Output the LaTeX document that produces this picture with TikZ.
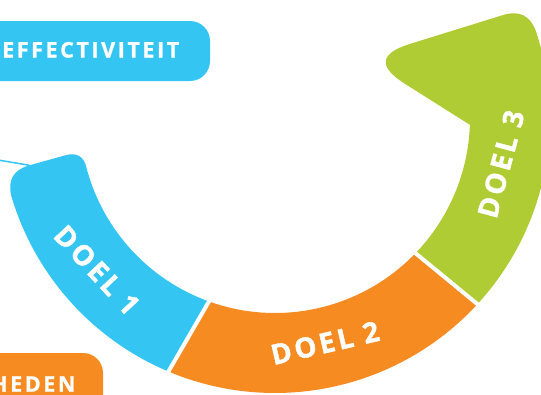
\documentclass[tikz,border=0pt]{standalone}
\usepackage{fontspec}
\setmainfont{Open Sans}
\newfontfamily\doelfont{Open Sans}[LetterSpace=11,BoldFeatures={FakeBold=1.3}]
\newfontfamily\boxfont{Open Sans}[LetterSpace=12,BoldFeatures={FakeBold=1.1}]
\definecolor{cblue}{HTML}{34C5F3}
\definecolor{corange}{HTML}{F68B21}
\definecolor{cgreen}{HTML}{B0CC34}
\begin{document}
\begin{tikzpicture}[x=1pt,y=1pt,
  doel/.style={text=white,font=\fontsize{28}{28}\selectfont\doelfont\bfseries,inner sep=0pt},
  boxlabel/.style={text=white,font=\fontsize{21.5}{22}\selectfont\boxfont\bfseries,inner sep=0pt,anchor=base west},
  gap/.style={draw=white,line width=4pt,shorten <=-6pt,shorten >=-6pt},
  conn/.style={draw=cblue,line width=1.5pt}]
\useasboundingbox (0,0) rectangle (541,-394);
% label boxes
\fill[cblue,rounded corners=20pt] (-40,-21) rectangle (210,-81);
\node[boxlabel] (eff) at (2,-57.5) {EFFECTIVITEIT};
\fill[corange,rounded corners=20pt] (-40,-353) rectangle (103,-440);
\node[boxlabel] (heden) at (-9,-391.7) {HEDEN};
% ring
\begin{scope}[shift={(275,-118)}]
  % blue segment with rounded start
  \fill[cblue] (-112.8:275) arc[start angle=-112.8,end angle=-163.46,radius=275]
     .. controls (-267.6,-62.1) and (-261.6,-51.8) .. (-245.5,-47.3)
     -- (-209.7,-37.3)
     .. controls (-198.1,-34.1) and (-191.0,-38.3) .. (-165.12:195)
     arc[start angle=-165.12,end angle=-109.8,radius=195] -- cycle;
  % green segment with arrowhead
  \fill[cgreen] (-42.6:275) arc[start angle=-42.6,end angle=18.45,radius=275]
     .. controls (255.0,102.6) and (244.1,107.9) .. (228.1,103.0)
     -- (135.0,74.1)
     .. controls (104.5,64.6) and (102.7,51.4) .. (129.8,34.3)
     -- (-2:195) arc[start angle=-2,end angle=-43.9,radius=195] -- cycle;
  % orange segment
  \fill[corange] (-112.8:275) arc[start angle=-112.8,end angle=-42.6,radius=275]
     -- (-43.9:195) arc[start angle=-43.9,end angle=-109.8,radius=195] -- cycle;
  \coordinate (bo1) at (-109.8:195);
  \coordinate (bo2) at (-112.8:275);
  \coordinate (og1) at (-43.9:195);
  \coordinate (og2) at (-42.6:275);
  \draw[gap] (bo1) -- (bo2);
  \draw[gap] (og1) -- (og2);
  \coordinate (blobtop) at (-245.5,-47.3);
\end{scope}
\coordinate (connstart) at (-5,-159.5);
\draw[conn] (connstart) -- (blobtop);
% labels
\node[doel,rotate=-47] (d1) at (97,-270) {DOEL 1};
\node[doel,rotate=13] (d2) at (325,-343) {DOEL 2};
\node[doel,rotate=75] (d3) at (501,-164) {DOEL 3};
\end{tikzpicture}
\end{document}
